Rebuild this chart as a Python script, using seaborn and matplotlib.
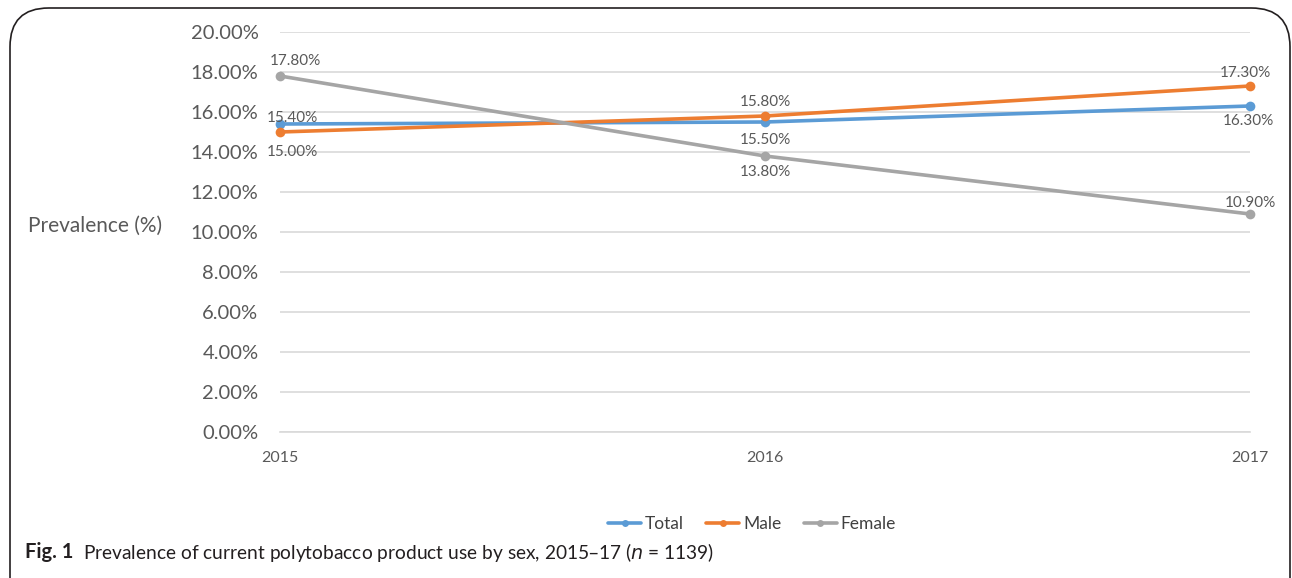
import matplotlib
matplotlib.use("Agg")
import matplotlib.pyplot as plt
import seaborn as sns
import pandas as pd
from matplotlib.patches import FancyBboxPatch
from matplotlib.ticker import FuncFormatter
from matplotlib.lines import Line2D

years = [2015, 2016, 2017]
series = ["Total", "Male", "Female"]
total = [15.4, 15.5, 16.3]
male = [15.0, 15.8, 17.3]
female = [17.8, 13.8, 10.9]
colors = ["#5B9BD5", "#ED7D31", "#A5A5A5"]
yticks = [0, 2, 4, 6, 8, 10, 12, 14, 16, 18, 20]

rows = []
for name, vals in zip(series, [total, male, female]):
    for y, v in zip(years, vals):
        rows.append({"Year": y, "Series": name, "Value": v})
df = pd.DataFrame(rows)

sns.set_style("white")
plt.rcParams["font.family"] = ["Lato", "DejaVu Sans"]
txt = "#595959"

fig = plt.figure(figsize=(12.92, 5.78), dpi=100)
W, H = 1292, 578
ax = fig.add_axes([280 / W, 1 - 432 / H, 970 / W, 400 / H])

sns.lineplot(data=df, x="Year", y="Value", hue="Series", palette=colors,
             hue_order=series, marker="o", markersize=7, markeredgewidth=0,
             linewidth=2.6, ax=ax, legend=False, clip_on=False)

ax.set_xlim(2015, 2017)
ax.set_ylim(0, 20)
ax.set_yticks(yticks)
ax.yaxis.set_major_formatter(FuncFormatter(lambda v, p: f"{v:.2f}%"))
ax.set_xticks(years)
ax.set_xticklabels([str(y) for y in years])
ax.grid(axis="y", color="#D9D9D9", linewidth=1.2)
ax.set_axisbelow(True)
for s in ["top", "right", "left"]:
    ax.spines[s].set_visible(False)
ax.spines["bottom"].set_color("#D9D9D9")
ax.spines["bottom"].set_linewidth(1.2)
ax.tick_params(axis="y", labelsize=14.5, colors=txt, length=0, pad=15.5)
ax.tick_params(axis="x", labelsize=11.5, colors=txt, length=0, pad=14)
ax.set_xlabel("")
ax.set_ylabel("")

# data labels: per-year offsets in pixels
offsets = {
    "Total": [(-13, 6, "left"), (0, -18, "center"), (-2, -15, "center")],
    "Male": [(-13, -20, "left"), (0, 14, "center"), (-5, 13, "center")],
    "Female": [(-10, 15, "left"), (0, -16, "center"), (0, 11, "center")],
}
for name, vals in zip(series, [total, male, female]):
    for y, v, (dx, dy, ha) in zip(years, vals, offsets[name]):
        ax.annotate(f"{v:.2f}%", (y, v), xytext=(dx, dy), textcoords="offset pixels",
                    ha=ha, va="center", fontsize=11, color=txt)

fig.text(28 / W, 1 - 226 / H, "Prevalence (%)", fontsize=15, color=txt,
         ha="left", va="center")

# legend
handles = [Line2D([0], [0], color=c, marker="o", markersize=5, linewidth=2.6,
                  markeredgewidth=0) for c in colors]
fig.legend(handles, series, loc="center", bbox_to_anchor=(752 / W, 1 - 524 / H),
           ncol=3, frameon=False, fontsize=12.5, handlelength=1.9, handletextpad=0.2,
           columnspacing=1.3, labelcolor="#404040")

# caption
fig.text(25 / W, 1 - 552 / H, "Fig. 1", fontsize=14.5, fontweight="bold",
         color="#231F20", ha="left", va="center")
fig.text(83 / W, 1 - 552 / H,
         "Prevalence of current polytobacco product use by sex, 2015\u201317 ($n$ = 1139)",
         fontsize=13.8, color="#231F20", ha="left", va="center")

# rounded border
box = FancyBboxPatch((10 / W, -0.1), 1280 / W, (1 - 8 / H) + 0.1,
                     boxstyle="round,pad=0,rounding_size=0.03",
                     transform=fig.transFigure, fill=False, edgecolor="#231F20",
                     linewidth=1.2, mutation_aspect=W / H)
fig.patches.append(box)

fig.savefig("out.png", dpi=100)
